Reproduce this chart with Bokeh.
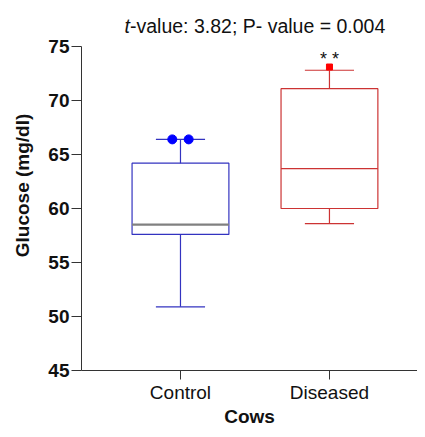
from bokeh.plotting import figure
from bokeh.models import Range1d, FixedTicker
from bokeh.embed import file_html
from bokeh.resources import INLINE
from bokeh.core.properties import value

# ---- data ----
categories = ["Control", "Diseased"]
lower_whisker = [50.9, 58.6]
q1 = [57.6, 60.0]
median = [58.5, 63.7]
q3 = [64.2, 71.1]
upper_whisker = [66.4, 72.8]
control_outliers = [66.4, 66.4]
diseased_outliers = [73.1]
y_ticks = [45, 50, 55, 60, 65, 70, 75]
title_italic = "t"
title_rest = "-value: 3.82; P- value = 0.004"
significance = "* *"
x_title = "Cows"
y_title = "Glucose (mg/dl)"

# ---- styles ----
FONT = "Liberation Sans"
box_colors = ["#3333c0", "#cc3333"]
median_colors = ["#808080", "#cc3333"]
box_half = 0.325
cap_half = 0.165
jitter = [-0.055, 0.055]

xpos = [i + 1 for i in range(len(categories))]

p = figure(width=417, height=429, output_backend="svg", toolbar_location=None,
           x_range=Range1d(0.3356, 2.591), y_range=Range1d(45, 79.26))
p.min_border_left = 81
p.min_border_right = 0
p.min_border_top = 0
p.min_border_bottom = 59
p.outline_line_color = None
p.xgrid.visible = False
p.ygrid.visible = False
p.background_fill_color = "white"
p.border_fill_color = "white"

# boxes
p.quad(left=[x - box_half for x in xpos], right=[x + box_half for x in xpos],
       bottom=q1, top=q3, fill_color="white", line_color=box_colors, line_width=1.2)
# whiskers
p.segment(x0=xpos, y0=q3, x1=xpos, y1=upper_whisker, line_color=box_colors, line_width=1.2)
p.segment(x0=xpos, y0=lower_whisker, x1=xpos, y1=q1, line_color=box_colors, line_width=1.2)
# caps
p.segment(x0=[x - cap_half for x in xpos], y0=upper_whisker,
          x1=[x + cap_half for x in xpos], y1=upper_whisker, line_color=box_colors, line_width=1.2)
p.segment(x0=[x - cap_half for x in xpos], y0=lower_whisker,
          x1=[x + cap_half for x in xpos], y1=lower_whisker, line_color=box_colors, line_width=1.2)
# medians
p.segment(x0=[x - box_half for x in xpos], y0=median,
          x1=[x + box_half for x in xpos], y1=median, line_color=median_colors, line_width=[2.2, 1.2])

# outliers
p.scatter(x=[xpos[0] + j for j in jitter], y=control_outliers, marker="circle",
          size=9, fill_color="#0000ff", line_color="#0000ff")
p.scatter(x=[xpos[1]] * len(diseased_outliers), y=diseased_outliers, marker="square",
          size=6, fill_color="#ff0000", line_color="#ff0000")

# significance stars
p.text(x=[xpos[1]], y=[73.8], text=[significance], text_align="center",
       text_baseline="alphabetic", text_font=value(FONT), text_font_size="18px",
       text_color="#111111")

# title (italic t + rest), drawn inside the extended frame above the axis bounds
title_x = 0.661
title_y = 76.9
p.text(x=[title_x], y=[title_y], text=[title_italic], text_align="right",
       text_baseline="alphabetic", text_font=value(FONT), text_font_size="19.5px",
       text_font_style="italic", text_color="#111111")
p.text(x=[title_x], y=[title_y], text=[title_rest], text_align="left",
       text_baseline="alphabetic", text_font=value(FONT), text_font_size="19.5px",
       text_color="#111111")

# axes
xa = p.xaxis[0]
xa.ticker = FixedTicker(ticks=xpos)
xa.major_label_overrides = {x: c for x, c in zip(xpos, categories)}
xa.axis_label = x_title
xa.axis_label_text_font = FONT
xa.axis_label_text_font_size = "19px"
xa.axis_label_text_font_style = "bold"
xa.axis_label_text_color = "#111111"
xa.axis_label_standoff = 0
xa.major_label_text_font = FONT
xa.major_label_text_font_size = "19px"
xa.major_label_text_color = "#111111"
xa.major_label_standoff = 2
xa.major_tick_out = 9
xa.major_tick_in = 0
xa.minor_tick_line_color = None
xa.axis_line_color = "#333333"
xa.major_tick_line_color = "#333333"

ya = p.yaxis[0]
ya.ticker = FixedTicker(ticks=y_ticks)
ya.bounds = (y_ticks[0], y_ticks[-1])
ya.axis_label = y_title
ya.axis_label_text_font = FONT
ya.axis_label_text_font_size = "19px"
ya.axis_label_text_font_style = "bold"
ya.axis_label_text_color = "#111111"
ya.axis_label_standoff = 12
ya.major_label_text_font = FONT
ya.major_label_text_font_size = "19px"
ya.major_label_text_font_style = "bold"
ya.major_label_text_color = "#111111"
ya.major_label_standoff = 2
ya.major_tick_out = 10
ya.major_tick_in = 0
ya.minor_tick_line_color = None
ya.axis_line_color = "#333333"
ya.major_tick_line_color = "#333333"

open("out.html", "w").write(file_html(p, INLINE))
